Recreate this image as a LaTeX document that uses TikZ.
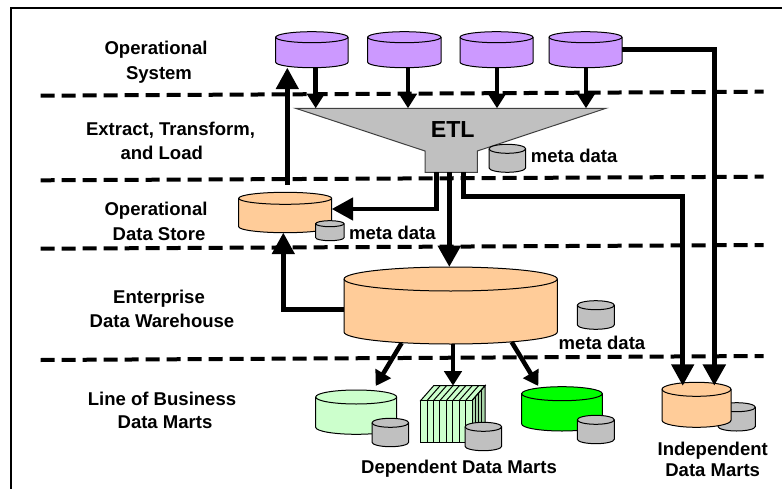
\documentclass[tikz,border=0pt]{standalone}
\usepackage{fontspec}
\setmainfont{Liberation Sans}
\usetikzlibrary{arrows.meta,calc}
\definecolor{cpurple}{HTML}{CC99FF}
\definecolor{corange}{HTML}{FFCC99}
\definecolor{cgray}{HTML}{C0C0C0}
\definecolor{cpale}{HTML}{CCFFCC}
\definecolor{cside}{HTML}{A8D4A8}
\definecolor{cgreen}{HTML}{00FF00}
\tikzset{
  lbl/.style={anchor=base,inner sep=0pt,font=\fontsize{13.9pt}{16pt}\selectfont\bfseries,text=black},
  etllbl/.style={lbl,font=\fontsize{17.4pt}{20pt}\selectfont\bfseries},
  sep/.style={line width=3pt,dash pattern=on 10.5pt off 5.25pt},
  frameline/.style={line width=1.5pt},
  hitbox/.style={inner sep=0pt,outer sep=0pt,draw=none},
  conn/.style={line width=3.4pt,line join=miter},
  bigconn/.style={conn,-{Triangle[length=16pt,width=16.5pt]}},
  fatconn/.style={bigconn,line width=4pt},
  smallconn/.style={conn,-{Triangle[length=11pt,width=13pt]}},
  cylline/.style={draw=black,line width=0.75pt},
}
% name, x1, x2, y1, y2, ry, colour
\newcommand{\cyl}[7]{%
  \node[hitbox,minimum width={(#3-#2)*0.75pt},minimum height={(#5-#4)*0.75pt}] (#1) at ({(#2+#3)/2},{(#4+#5)/2}) {};
  \path[cylline,fill=#7] (#2,#4+#6) -- (#2,#5-#6)
     arc[start angle=180,end angle=360,x radius={(#3-#2)*0.375pt},y radius={#6*0.75pt}]
     -- (#3,#4+#6)
     arc[start angle=0,end angle=180,x radius={(#3-#2)*0.375pt},y radius={#6*0.75pt}] -- cycle;
  \draw[cylline] (#2,#4+#6)
     arc[start angle=180,end angle=360,x radius={(#3-#2)*0.375pt},y radius={#6*0.75pt}];
}
\begin{document}
\begin{tikzpicture}[x=0.75pt,y=-0.75pt]
\useasboundingbox (0,0) rectangle (782,489);
\fill[white] (0,0) rectangle (782,489);
% frame
\coordinate (fa) at (10.7,489);
\coordinate (fb) at (10.7,7.7);
\coordinate (fc) at (782,7.7);
\draw[frameline] (fa) -- (fb) -- (fc);
% separators
\coordinate (s1a) at (40.7,95.7); \coordinate (s1b) at (763.7,91.7);
\coordinate (s2a) at (40.7,180.3); \coordinate (s2b) at (763.7,176.7);
\coordinate (s3a) at (40.7,248.7); \coordinate (s3b) at (763.7,245);
\coordinate (s4a) at (40.7,360); \coordinate (s4b) at (763.7,356);
\draw[sep] (s1a) -- (s1b);
\draw[sep] (s2a) -- (s2b);
\draw[sep] (s3a) -- (s3b);
\draw[sep] (s4a) -- (s4b);
% left labels
\node[lbl] (l1) at (156,54.5) {Operational};
\node[lbl] (l2) at (159,79.5) {System};
\node[lbl] (l3) at (170.5,135.5) {Extract, Transform,};
\node[lbl] (l4) at (161.7,159.5) {and Load};
\node[lbl] (l5) at (156,215.7) {Operational};
\node[lbl] (l6) at (159,240.7) {Data Store};
\node[lbl] (l7) at (159,303.3) {Enterprise};
\node[lbl] (l8) at (162,327.3) {Data Warehouse};
\node[lbl] (l9) at (162,405) {Line of Business};
\node[lbl] (l10) at (165,428.3) {Data Marts};
% operational systems
\cyl{op1}{275.7}{348}{31.7}{67.7}{5.5}{cpurple}
\cyl{op2}{367.7}{441}{31.7}{67.7}{5.5}{cpurple}
\cyl{op3}{460}{533}{31.7}{67.7}{5.5}{cpurple}
\cyl{op4}{549}{622}{31.7}{67.7}{5.5}{cpurple}
% ETL funnel
\node[hitbox,minimum width=232.7pt,minimum height=48pt] (etl) at (450.85,140.3) {};
\draw[draw=black!75,line width=0.75pt,fill=cgray] (295.7,108.3) -- (606,108.3) -- (477.3,151) -- (477.3,172.3) -- (425,172.3) -- (425,151) -- cycle;
\node[etllbl] (etltext) at (452.7,137.3) {ETL};
\cyl{metaetl}{489}{525.7}{144.3}{172.3}{4.5}{cgray}
\node[lbl] (metaetltext) at (574.2,162.7) {meta data};
% ODS
\cyl{ods}{238.7}{331.7}{192.3}{232.7}{6}{corange}
\cyl{metaods}{315.7}{344}{220.7}{240.7}{3}{cgray}
\node[lbl] (metaodstext) at (392.4,239.3) {meta data};
% EDW
\cyl{edw}{344}{557.3}{267}{344}{12}{corange}
\cyl{metaedw}{577.3}{614.3}{300.7}{329.3}{4.5}{cgray}
\node[lbl] (metaedwtext) at (602,349) {meta data};
% dependent marts
\cyl{dm1}{315.7}{396.7}{390}{434.3}{7}{cpale}
\cyl{metadm1}{372}{408.7}{418.3}{446.7}{4.5}{cgray}
\node[hitbox,minimum width=48.2pt,minimum height=42.45pt] (dm2) at (452.85,414) {};
\fill[cside] (472,400.5) -- (485,385.7) -- (485,427.3) -- (472,442.3) -- cycle;
\foreach \d in {3.3,6.5,9.8}{\draw[line width=0.75pt] ({472+\d},{400.5-\d*1.14}) -- ({472+\d},{442.3-\d*1.14});}
\draw[line width=0.75pt,fill=cpale] (420.7,400.5) -- (433.7,385.7) -- (485,385.7) -- (472,400.5) -- cycle;
\draw[line width=0.75pt,fill=cpale] (420.7,400.5) rectangle (472,442.3);
\foreach \k in {1,...,7}{
  \draw[line width=0.75pt] ({420.7+\k*6.41},400.5) -- ({420.7+\k*6.41},442.3);
  \draw[line width=0.75pt] ({420.7+\k*6.41},400.5) -- ({433.7+\k*6.41},385.7);
}
\draw[line width=0.75pt] (472,400.5) -- (485,385.7) -- (485,427.3) -- (472,442.3);
\cyl{metadm2}{465}{501.7}{422.3}{450.7}{4.5}{cgray}
\cyl{dm3}{521.7}{602.3}{386.7}{431}{7}{cgreen}
\cyl{metadm3}{577.3}{614.3}{415.3}{443.7}{4.5}{cgray}
\node[lbl] (deptext) at (459,473.3) {Dependent Data Marts};
% independent marts
\cyl{metaind}{718}{755.3}{402.7}{431}{4.5}{cgray}
\cyl{ind}{662}{731}{382.3}{427.3}{7}{corange}
\node[lbl] (indtext1) at (712.7,455) {Independent};
\node[lbl] (indtext2) at (712.7,476) {Data Marts};
% connectors: operational systems to ETL
\coordinate (a1) at ($(op1.south)+(3.85,0)$);
\coordinate (a2) at ($(op2.south)+(3.65,0)$);
\coordinate (a3) at ($(op3.south)+(0.5,0)$);
\coordinate (a4) at ($(op4.south)+(0.5,0)$);
\draw[smallconn] (a1) -- (a1 |- etl.north);
\draw[smallconn] (a2) -- (a2 |- etl.north);
\draw[smallconn] (a3) -- (a3 |- etl.north);
\draw[smallconn] (a4) -- (a4 |- etl.north);
% ODS back to operational
\coordinate (u1) at ($(ods.north)+(2.1,-7.6)$);
\draw[bigconn] (u1) -- (u1 |- op1.south);
% ETL to ODS
\coordinate (e1) at ($(etl.south)+(-14.15,0)$);
\coordinate (e1t) at ($(ods.east)+(0,-3.5)$);
\draw[bigconn] (e1) |- (e1t);
% ETL to EDW
\coordinate (e2) at ($(etl.south)+(-1.55,0)$);
\draw[fatconn] (e2) -- (e2 |- edw.north);
% EDW to ODS
\coordinate (w1) at ($(edw.west)+(0,3.8)$);
\coordinate (w1t) at ($(ods.south)+(-1.9,0)$);
\draw[bigconn] (w1) -| (w1t);
% EDW to dependent marts
\coordinate (d1) at ($(edw.south)+(-49,-1)$);
\coordinate (d1t) at ($(dm1.north)+(19.5,-4)$);
\draw[smallconn] (d1) -- (d1t);
\coordinate (d2) at ($(edw.south)+(2.35,0)$);
\draw[smallconn] (d2) -- (d2 |- dm2.north);
\coordinate (d3) at ($(edw.south)+(61,-2)$);
\coordinate (d3t) at ($(dm3.north)+(-23.7,-0.7)$);
\draw[smallconn] (d3) -- (d3t);
% to independent marts
\coordinate (e3) at ($(etl.south)+(12.85,0)$);
\coordinate (e3b) at (600,196.7);
\coordinate (i1) at ($(ind.north)+(-13.8,3.4)$);
\coordinate (i2) at ($(ind.north)+(17.8,3.4)$);
\draw[bigconn] (e3) |- (e3b) -| (i1);
\draw[bigconn,line width=4pt] (op4.east) -| (i2);
\end{tikzpicture}
\end{document}
